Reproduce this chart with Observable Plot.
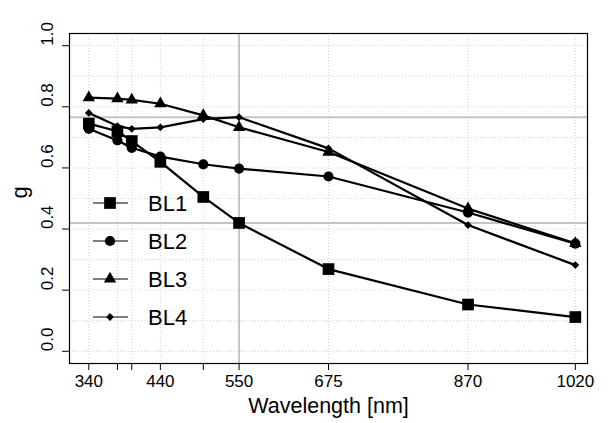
<!DOCTYPE html>
<html>
<head>
<meta charset="utf-8">
<script src="https://cdn.jsdelivr.net/npm/d3@7"></script>
<script src="https://cdn.jsdelivr.net/npm/@observablehq/plot@0.6"></script>
<style>
  html, body { margin: 0; padding: 0; background: #fff; }
  #chart { width: 608px; height: 423px; }
</style>
</head>
<body>
<div id="chart"></div>
<script>
// Asymmetry parameter g per wavelength for four sites
const wavelengths = [340, 380, 400, 440, 500, 550, 675, 870, 1020];
const seriesNames = ["BL1", "BL2", "BL3", "BL4"];
const BL1 = [0.745, 0.720, 0.688, 0.620, 0.505, 0.420, 0.269, 0.153, 0.112];
const BL2 = [0.728, 0.690, 0.666, 0.637, 0.612, 0.598, 0.572, 0.454, 0.352];
const BL3 = [0.830, 0.827, 0.823, 0.810, 0.772, 0.733, 0.652, 0.467, 0.353];
const BL4 = [0.780, 0.737, 0.728, 0.733, 0.760, 0.766, 0.664, 0.413, 0.282];

const xTicks = [340, 440, 550, 675, 870, 1020];
const xMinorTicks = [380, 400, 500];
const yTicks = [0, 0.2, 0.4, 0.6, 0.8, 1.0];
const yGrid = d3.range(0, 11).map(i => i / 10);
const refWavelength = 550;
const xTitle = "Wavelength [nm]";
const yTitle = "g";

const values = {BL1, BL2, BL3, BL4};
const rows = seriesNames.flatMap(name =>
  wavelengths.map((wl, i) => ({series: name, wl, g: values[name][i]}))
);

// horizontal reference levels pass through BL1 and BL4 at the reference wavelength
const refIndex = wavelengths.indexOf(refWavelength);
const refLevels = [BL1[refIndex], BL4[refIndex]];

// marker style per series (symbol + radius)
const markers = {
  BL1: {symbol: d3.symbolSquare, r: 6.6},
  BL2: {symbol: d3.symbolCircle, r: 5.1},
  BL3: {symbol: d3.symbolTriangle, r: 4.6},
  BL4: {symbol: d3.symbolDiamond2, r: 3.5}
};

const font = "'Liberation Sans', Arial, Helvetica, sans-serif";

const chart = Plot.plot({
  width: 608,
  height: 423,
  marginTop: 33,
  marginRight: 21,
  marginBottom: 60,
  marginLeft: 69,
  style: {fontFamily: font, background: "#fff", color: "#000"},
  x: {domain: [313, 1037]},
  y: {domain: [-0.04, 1.04]},
  marks: [
    // dotted grid
    Plot.ruleY(yGrid, {stroke: "#d3d3d3", strokeDasharray: "1,2"}),
    Plot.ruleX(wavelengths, {stroke: "#d3d3d3", strokeDasharray: "1,2"}),
    // reference lines
    Plot.ruleY(refLevels, {stroke: "#c4c4c4", strokeWidth: 2}),
    Plot.ruleX([refWavelength], {stroke: "#a6a6a6", strokeWidth: 1.2}),
    // series
    Plot.line(rows, {x: "wl", y: "g", z: "series", stroke: "#000", strokeWidth: 2.2}),
    ...seriesNames.map(name =>
      Plot.dot(rows.filter(d => d.series === name), {
        x: "wl", y: "g", fill: "#000",
        symbol: markers[name].symbol, r: markers[name].r
      })
    ),
    // axes
    Plot.axisX({ticks: xTicks, tickSize: 7, tickPadding: 4, fontSize: 17, tickFormat: d => String(d), label: null, stroke: "#000"}),
    Plot.axisX({ticks: xMinorTicks, tickSize: 7, tickFormat: () => "", label: null, stroke: "#000"}),
    Plot.axisY({ticks: yTicks, tickSize: 7, tickFormat: () => "", label: null, stroke: "#000"}),
    Plot.text(yTicks, {y: d => d, text: d => d.toFixed(1), frameAnchor: "left", dx: -22, rotate: -90, fontSize: 17, fill: "#000"}),
    Plot.frame({stroke: "#000", strokeWidth: 1.2}),
    Plot.text([xTitle], {frameAnchor: "bottom", dy: 49, fontSize: 21.5, fill: "#000"}),
    Plot.text([yTitle], {frameAnchor: "left", dx: -50, rotate: -90, fontSize: 22, fill: "#000"})
  ]
});

// legend inside the plot area, lower left
const svg = d3.select(chart);
const legend = svg.append("g")
  .attr("font-family", font)
  .attr("text-anchor", "start");
seriesNames.forEach((name, i) => {
  const cy = 203 + i * 38;
  const item = legend.append("g").attr("transform", `translate(0,${cy})`);
  item.append("line")
    .attr("x1", 93).attr("x2", 128).attr("y1", 0).attr("y2", 0)
    .attr("stroke", "#000").attr("stroke-width", 1.2);
  const m = markers[name];
  item.append("path")
    .attr("transform", "translate(110,0)")
    .attr("d", d3.symbol(m.symbol, Math.PI * m.r * m.r)())
    .attr("fill", "#000");
  item.append("text")
    .attr("x", 148).attr("y", 0).attr("dy", "0.35em")
    .attr("font-size", 22).attr("fill", "#000")
    .attr("text-anchor", "start")
    .text(name);
});

document.getElementById("chart").append(chart);
</script>
</body>
</html>
